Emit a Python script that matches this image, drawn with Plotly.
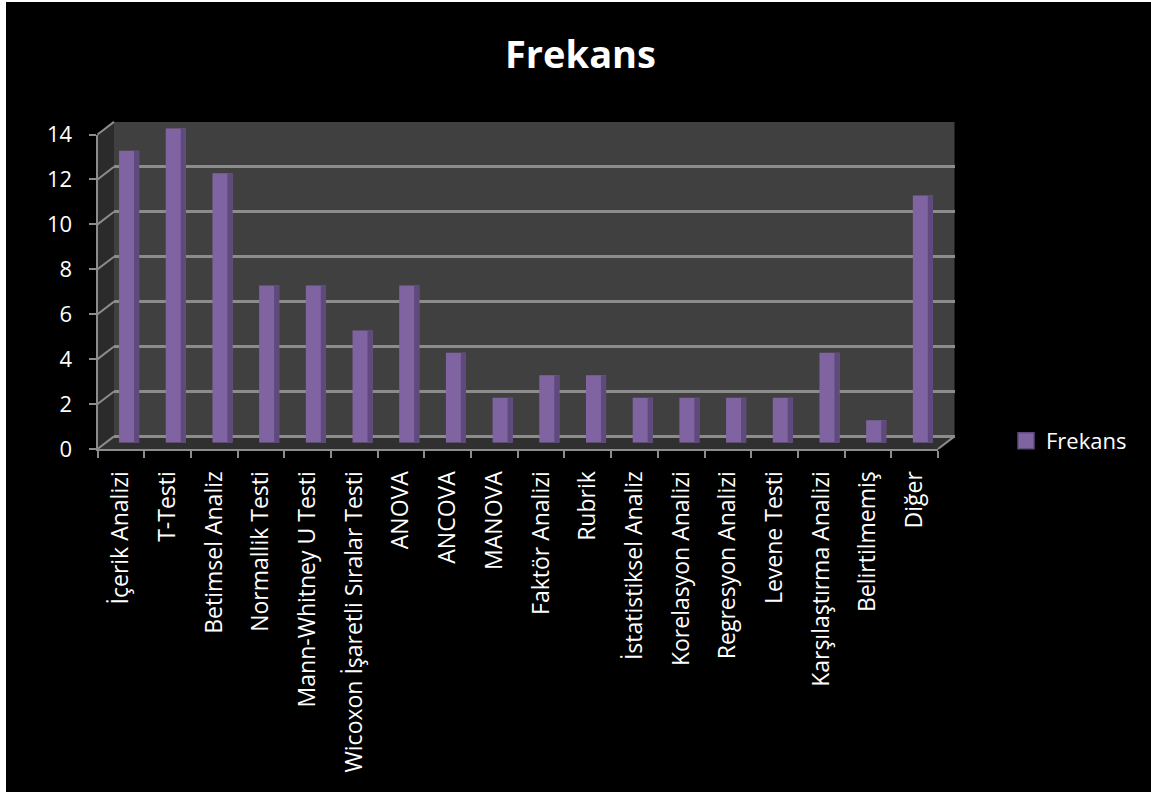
import plotly.graph_objects as go

# Analysis methods and how often each one appears
categories = [
    "İçerik Analizi", "T-Testi", "Betimsel Analiz", "Normallik Testi",
    "Mann-Whitney U Testi", "Wicoxon İşaretli Sıralar Testi", "ANOVA",
    "ANCOVA", "MANOVA", "Faktör Analizi", "Rubrik", "İstatistiksel Analiz",
    "Korelasyon Analizi", "Regresyon Analizi", "Levene Testi",
    "Karşılaştırma Analizi", "Belirtilmemiş", "Diğer",
]
frekans = [13, 14, 12, 7, 7, 5, 7, 4, 2, 3, 3, 2, 2, 2, 2, 4, 1, 11]
y_ticks = [0, 2, 4, 6, 8, 10, 12, 14]

W, H = 1151, 792
FONT = "Open Sans"
GRID = "#8c8c8c"
PURPLE = "#8064a2"
PURPLE_DARK = "#5f4a7e"

def px_x(p):
    return p / W

def px_y(p):
    return 1 - p / H

# pseudo-3D geometry (pixel positions of the front plane and the depth shift)
front_l, front_r = 97.5, 938.0
front_bot, front_top = 449.0, 134.5
dx, dy = 16.5, -12.6
y_max = 14

def dom_x(shift):
    return [px_x(front_l + shift), px_x(front_r + shift)]

def dom_y(shift):
    return [px_y(front_bot + shift), px_y(front_top + shift)]

fig = go.Figure()

# keeps the back-wall subplot alive so its grid lines are drawn
fig.add_trace(go.Scatter(
    x=[0], y=[0], mode="markers", showlegend=False,
    xaxis="x", yaxis="y", marker=dict(opacity=0), hoverinfo="skip",
))
# bars sit halfway into the depth of the box
bar_w = 0.43
fig.add_trace(go.Bar(
    x=categories, y=frekans, name="Frekans", showlegend=False,
    xaxis="x2", yaxis="y2",
    width=bar_w, offset=-bar_w / 2,
    marker=dict(color=PURPLE, line=dict(width=0)),
    hoverinfo="x+y",
))
fig.add_trace(go.Bar(
    x=categories, y=frekans, showlegend=False,
    xaxis="x2", yaxis="y2",
    width=0.11, offset=bar_w / 2 - 0.11,
    marker=dict(color=PURPLE_DARK, line=dict(width=0)),
    hoverinfo="skip",
))
# carries the category order for the front axis
fig.add_trace(go.Scatter(
    x=categories, y=frekans, mode="markers", showlegend=False,
    xaxis="x3", yaxis="y3", marker=dict(opacity=0), hoverinfo="skip",
))
# legend entry with a square swatch
fig.add_trace(go.Scatter(
    x=[None], y=[None], mode="markers", name="Frekans",
    xaxis="x3", yaxis="y3",
    marker=dict(symbol="square", size=16, color=PURPLE,
                line=dict(color=PURPLE_DARK, width=1.5)),
))

shapes = [
    # black chart area inside the white page edge
    dict(type="rect", xref="paper", yref="paper", x0=px_x(6), x1=1,
         y0=0, y1=px_y(2), fillcolor="black", line=dict(width=0), layer="below"),
    # back wall
    dict(type="rect", xref="paper", yref="paper",
         x0=px_x(front_l + dx), x1=px_x(front_r + dx),
         y0=px_y(front_bot + dy), y1=px_y(front_top + dy),
         fillcolor="#404040", line=dict(width=0), layer="below"),
    # left side wall
    dict(type="path", xref="paper", yref="paper",
         path=(f"M {px_x(front_l)} {px_y(front_bot)} L {px_x(front_l)} {px_y(front_top)} "
               f"L {px_x(front_l + dx)} {px_y(front_top + dy)} "
               f"L {px_x(front_l + dx)} {px_y(front_bot + dy)} Z"),
         fillcolor="#2b2b2b", line=dict(width=0), layer="below"),
    # floor
    dict(type="path", xref="paper", yref="paper",
         path=(f"M {px_x(front_l)} {px_y(front_bot)} L {px_x(front_r)} {px_y(front_bot)} "
               f"L {px_x(front_r + dx)} {px_y(front_bot + dy)} "
               f"L {px_x(front_l + dx)} {px_y(front_bot + dy)} Z"),
         fillcolor="#303030", line=dict(width=0), layer="below"),
    # right floor edge
    dict(type="line", xref="paper", yref="paper",
         x0=px_x(front_r), y0=px_y(front_bot),
         x1=px_x(front_r + dx), y1=px_y(front_bot + dy),
         line=dict(color=GRID, width=2), layer="below"),
]
# side-wall grid lines joining each front tick to the back wall
for v in y_ticks:
    yf = front_bot + (front_top - front_bot) * v / y_max
    shapes.append(dict(
        type="line", xref="paper", yref="paper",
        x0=px_x(front_l), y0=px_y(yf), x1=px_x(front_l + dx), y1=px_y(yf + dy),
        line=dict(color=GRID, width=2), layer="below"))

hidden = dict(visible=False, showgrid=False, zeroline=False, automargin=False)

fig.update_layout(
    template="none",
    width=W, height=H,
    margin=dict(l=0, r=0, t=0, b=0, pad=0, autoexpand=False),
    paper_bgcolor="white",
    plot_bgcolor="rgba(0,0,0,0)",
    barmode="overlay",
    font=dict(family=FONT, color="white", size=22),
    shapes=shapes,
    hovermode="closest",
    # back wall axes: horizontal grid lines
    xaxis=dict(domain=dom_x(dx), range=[-0.5, 17.5], anchor="y", **hidden),
    yaxis=dict(domain=dom_y(dy), range=[0, y_max], anchor="x",
               tickvals=y_ticks, automargin=False,
               showgrid=True, gridcolor=GRID, gridwidth=2.5,
               zeroline=True, zerolinecolor=GRID, zerolinewidth=2.5,
               showticklabels=False, ticks="", showline=False),
    # bar axes at mid depth
    xaxis2=dict(domain=dom_x(dx / 2), type="category",
                categoryorder="array", categoryarray=categories,
                range=[-0.5, 17.5], anchor="y2", **hidden),
    yaxis2=dict(domain=dom_y(dy / 2), range=[0, y_max], anchor="x2", **hidden),
    # front axes with ticks and labels
    xaxis3=dict(domain=dom_x(0), type="category",
                categoryorder="array", categoryarray=categories,
                range=[-0.5, 17.5], anchor="y3", automargin=False,
                showline=True, linecolor=GRID, linewidth=2,
                ticks="outside", tickson="boundaries", ticklen=7,
                tickcolor=GRID, tickwidth=2, tickangle=-90,
                ticklabelstandoff=11,
                tickfont=dict(family=FONT, color="white", size=23),
                showgrid=False, zeroline=False),
    yaxis3=dict(domain=dom_y(0), range=[0, y_max], anchor="x3",
                tickvals=y_ticks, automargin=False,
                showline=True, linecolor=GRID, linewidth=2,
                ticks="outside", ticklen=7, tickcolor=GRID, tickwidth=2,
                ticklabelstandoff=12,
                tickfont=dict(family=FONT, color="white", size=22),
                showgrid=False, zeroline=False),
    showlegend=True,
    legend=dict(x=px_x(1006), y=px_y(441), xanchor="left", yanchor="middle",
                bgcolor="rgba(0,0,0,0)", borderwidth=0,
                font=dict(family=FONT, color="white", size=22)),
    annotations=[dict(
        text="<b>Frekans</b>", x=px_x(580), y=px_y(53),
        xref="paper", yref="paper", xanchor="center", yanchor="middle",
        showarrow=False, font=dict(family=FONT, color="white", size=38),
    )],
)

fig.write_html("out.html")
